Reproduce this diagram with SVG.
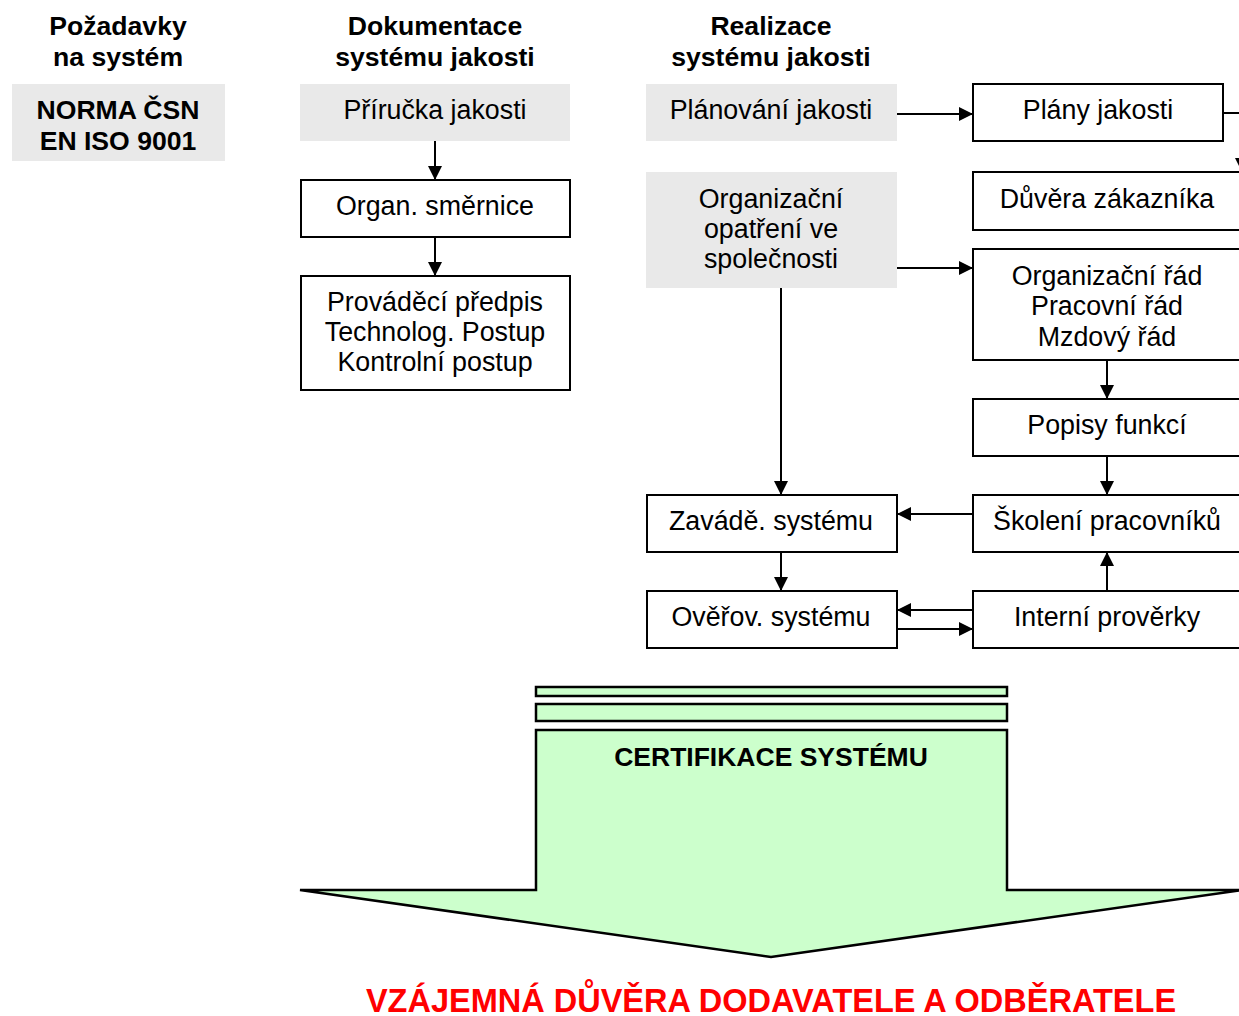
<svg xmlns="http://www.w3.org/2000/svg" width="1239" height="1016" viewBox="0 0 1239 1016">
<defs>
<marker id="ah" markerUnits="userSpaceOnUse" markerWidth="14" markerHeight="14" viewBox="0 0 14 14" refX="14" refY="7" orient="auto">
<path d="M0,0 L14,7 L0,14 Z" fill="#000"/>
</marker>
</defs>
<style>
.t{font-family:"Liberation Sans",Arial,sans-serif;font-size:26.8px;fill:#000;text-anchor:middle}
.b{font-weight:bold;font-size:26.6px}
.box{fill:#fff;stroke:#000;stroke-width:2}
.grey{fill:#e9e9e9;stroke:none}
.c{fill:none;stroke:#000;stroke-width:2;marker-end:url(#ah)}
.g{fill:#ccffcc;stroke:#000;stroke-width:2.5}
</style>
<rect width="1239" height="1016" fill="#fff"/>

<g id="headers">
<text class="t b" x="118" y="35">Požadavky</text>
<text class="t b" x="118" y="66">na systém</text>
<text class="t b" x="435" y="35">Dokumentace</text>
<text class="t b" x="435" y="66">systému jakosti</text>
<text class="t b" x="771" y="35">Realizace</text>
<text class="t b" x="771" y="66">systému jakosti</text>
</g>

<g id="norma">
<rect class="grey" x="12" y="84" width="213" height="77"/>
<text class="t b" x="118" y="119">NORMA ČSN</text>
<text class="t b" x="118" y="150">EN ISO 9001</text>
</g>

<g id="prirucka">
<rect class="grey" x="300" y="84" width="270" height="57"/>
<text class="t" x="435" y="119">Příručka jakosti</text>
</g>
<g id="smernice">
<rect class="box" x="301" y="180" width="269" height="57"/>
<text class="t" x="435" y="215">Organ. směrnice</text>
</g>
<g id="predpis">
<rect class="box" x="301" y="276" width="269" height="114"/>
<text class="t" x="435" y="311">Prováděcí předpis</text>
<text class="t" x="435" y="341">Technolog. Postup</text>
<text class="t" x="435" y="371">Kontrolní postup</text>
</g>

<g id="planovani">
<rect class="grey" x="646" y="84" width="251" height="57"/>
<text class="t" x="771" y="119">Plánování jakosti</text>
</g>
<g id="opatreni">
<rect class="grey" x="646" y="172" width="251" height="116"/>
<text class="t" x="771" y="208">Organizační</text>
<text class="t" x="771" y="238">opatření ve</text>
<text class="t" x="771" y="268">společnosti</text>
</g>
<g id="zavadeni">
<rect class="box" x="647" y="495" width="250" height="57"/>
<text class="t" x="771" y="530">Zavádě. systému</text>
</g>
<g id="overovani">
<rect class="box" x="647" y="591" width="250" height="57"/>
<text class="t" x="771" y="626">Ověřov. systému</text>
</g>

<g id="plany">
<rect class="box" x="973" y="84" width="250" height="57"/>
<text class="t" x="1098" y="119">Plány jakosti</text>
</g>
<g id="duvera">
<rect class="box" x="973" y="172" width="270" height="58"/>
<text class="t" x="1107" y="208">Důvěra zákazníka</text>
</g>
<g id="rady">
<rect class="box" x="973" y="249" width="270" height="111"/>
<text class="t" x="1107" y="285">Organizační řád</text>
<text class="t" x="1107" y="315">Pracovní řád</text>
<text class="t" x="1107" y="346">Mzdový řád</text>
</g>
<g id="popisy">
<rect class="box" x="973" y="399" width="270" height="57"/>
<text class="t" x="1107" y="434">Popisy funkcí</text>
</g>
<g id="skoleni">
<rect class="box" x="973" y="495" width="270" height="57"/>
<text class="t" x="1107" y="530">Školení pracovníků</text>
</g>
<g id="proverky">
<rect class="box" x="973" y="591" width="270" height="57"/>
<text class="t" x="1107" y="626">Interní prověrky</text>
</g>

<g id="connectors">
<path class="c" d="M435,141 V180"/>
<path class="c" d="M435,237 V276"/>
<path class="c" d="M897,114 H973"/>
<path class="c" d="M1223,113 H1242 V172"/>
<path class="c" d="M897,268 H973"/>
<path class="c" d="M781,288 V495"/>
<path class="c" d="M1107,360 V399"/>
<path class="c" d="M1107,456 V495"/>
<path class="c" d="M1107,591 V552"/>
<path class="c" d="M973,514 H897"/>
<path class="c" d="M781,552 V591"/>
<path class="c" d="M973,610 H897"/>
<path class="c" d="M897,629 H973"/>
</g>

<g id="certifikace">
<rect class="g" x="536" y="687" width="471" height="9"/>
<rect class="g" x="536" y="704" width="471" height="17"/>
<path class="g" d="M536,730 H1007 V890 H1242 L771,957 L300,890 H536 Z"/>
<text class="t b" x="771" y="766" style="font-size:26.5px">CERTIFIKACE SYSTÉMU</text>
</g>

<g id="vysledek">
<text class="t b" x="771" y="1012" style="font-size:32.5px;fill:#ff0000">VZÁJEMNÁ DŮVĚRA DODAVATELE A ODBĚRATELE</text>
</g>
</svg>
